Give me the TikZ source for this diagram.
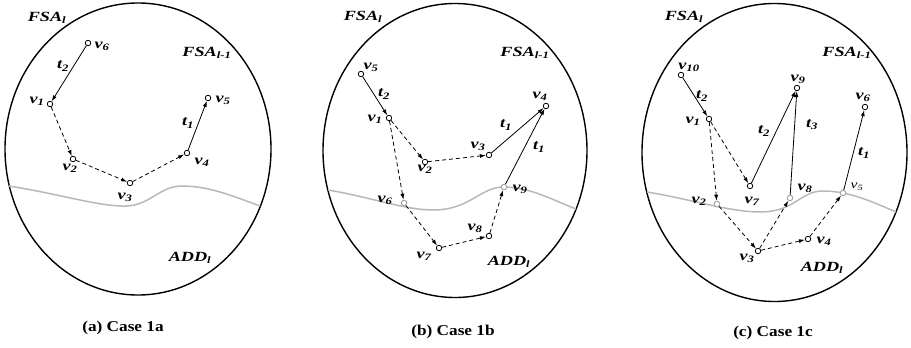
\documentclass[tikz,border=0pt]{standalone}
\usepackage{fontspec}
\setmainfont{Liberation Serif}[FakeStretch=1.15]
\newfontfamily\labfont{Liberation Serif}[FakeStretch=1.3]
\usetikzlibrary{arrows.meta}
\newcommand{\VV}[1]{v\textsubscript{#1}}
\newcommand{\TT}[1]{t\textsubscript{#1}}
\tikzset{
  vert/.style={circle, draw, fill=white, inner sep=0pt, minimum size=5.5pt, line width=0.8pt},
  gvert/.style={vert, draw=black!35, line width=1pt},
  lab/.style={font=\labfont\fontsize{14}{15}\selectfont\bfseries\itshape, inner sep=0pt},
  thinlab/.style={font=\labfont\fontsize{12}{13}\selectfont\itshape, inner sep=0pt},
  caplab/.style={font=\fontsize{15}{17}\selectfont\bfseries, inner sep=0pt},
  sarrow/.style={-{Latex[length=6pt,width=4pt]}, line width=0.8pt},
  darrow/.style={sarrow, dash pattern=on 4pt off 3pt},
  region/.style={line width=1.4pt},
  boundary/.style={line width=1.5pt, black!28}
}
\begin{document}
\begin{tikzpicture}[x=1pt, y=-1pt]
\useasboundingbox (0,0) rectangle (911,348);

% ---------------- (a) ----------------
\draw[region] (138,149) ellipse [x radius=133, y radius=146];
\draw[boundary] (9,186) .. controls (60,194) and (100,207) .. (127,206)
  .. controls (150,205) and (160,186) .. (182,186)
  .. controls (210,186) and (235,197) .. (260,206);
\node[vert] (a6) at (88,43) {};
\node[vert] (a1) at (50,104) {};
\node[vert] (a2) at (73,159) {};
\node[vert] (a3) at (130,183) {};
\node[vert] (a4) at (187,153) {};
\node[vert] (a5) at (208,98) {};
\draw[sarrow] (a6) -- (a1);
\draw[darrow] (a1) -- (a2);
\draw[darrow] (a2) -- (a3);
\draw[darrow] (a3) -- (a4);
\draw[sarrow] (a4) -- (a5);
\node[lab] (la6) at (102,46) {\VV{6}};
\node[lab] (la1) at (37,101) {\VV{1}};
\node[lab] (la2) at (70,168) {\VV{2}};
\node[lab] (la3) at (125,197) {\VV{3}};
\node[lab] (la4) at (202,162) {\VV{4}};
\node[lab] (la5) at (223,100) {\VV{5}};
\node[lab] (lat2) at (63,66) {\TT{2}};
\node[lab] (lat1) at (188,123) {\TT{1}};
\node[lab] (lafa) at (47,18) {FSA\textsubscript{l}};
\node[lab] (lafb) at (207,53) {FSA\textsubscript{l-1}};
\node[lab] (ladd) at (190,258) {ADD\textsubscript{l}};
\node[caplab] (capa) at (123,328) {(a) Case 1a};

% ---------------- (b) ----------------
\draw[region] (455,150.5) ellipse [x radius=132, y radius=147];
\draw[boundary] (328,190) .. controls (370,197) and (405,210) .. (433,210)
  .. controls (470,210) and (480,187) .. (504,187)
  .. controls (530,187) and (555,201) .. (576,209);
\node[vert] (b5) at (361,74) {};
\node[vert] (b1) at (389,118) {};
\node[vert] (b2) at (425,162) {};
\node[vert] (b3) at (489,155) {};
\node[vert] (b4) at (546,106) {};
\node[gvert] (b6) at (404,203) {};
\node[vert] (b7) at (439,248) {};
\node[vert] (b8) at (489,236) {};
\node[gvert] (b9) at (504,187) {};
\draw[sarrow] (b5) -- (b1);
\draw[darrow] (b1) -- (b2);
\draw[darrow] (b2) -- (b3);
\draw[sarrow] (b3) -- (b4);
\draw[darrow] (b1) -- (b6);
\draw[darrow] (b6) -- (b7);
\draw[darrow] (b7) -- (b8);
\draw[darrow] (b8) -- (b9);
\draw[sarrow] (b9) -- (b4);
\node[lab] (lb5) at (371,67) {\VV{5}};
\node[lab] (lb1) at (375,119) {\VV{1}};
\node[lab] (lb2) at (425,169) {\VV{2}};
\node[lab] (lb3) at (478,146) {\VV{3}};
\node[lab] (lb4) at (540,96) {\VV{4}};
\node[lab] (lb6) at (385,200) {\VV{6}};
\node[lab] (lb7) at (424,256) {\VV{7}};
\node[lab] (lb8) at (475,228) {\VV{8}};
\node[lab] (lb9) at (520,189) {\VV{9}};
\node[lab] (lbt2) at (384,94) {\TT{2}};
\node[lab] (lbt1) at (506,125) {\TT{1}};
\node[lab] (lbt1b) at (539,147) {\TT{1}};
\node[lab] (lbfa) at (363,17) {FSA\textsubscript{l}};
\node[lab] (lbfb) at (525,53) {FSA\textsubscript{l-1}};
\node[lab] (lbdd) at (509,262) {ADD\textsubscript{l}};
\node[caplab] (capb) at (453,332) {(b) Case 1b};

% ---------------- (c) ----------------
\draw[region] (774.5,152.5) ellipse [x radius=132.5, y radius=149];
\draw[boundary] (647,192) .. controls (690,199) and (730,212) .. (760,212)
  .. controls (795,212) and (800,191) .. (823,191)
  .. controls (850,191) and (875,203) .. (896,212);
\node[vert] (c10) at (681,75) {};
\node[vert] (c1) at (709,119) {};
\node[vert] (c9) at (797,88) {};
\node[vert] (c6) at (865,107) {};
\node[vert] (c7) at (750,186) {};
\node[gvert] (c2) at (717,204) {};
\node[gvert] (c8) at (790,198) {};
\node[gvert] (c5) at (843,193) {};
\node[vert] (c3) at (758,251) {};
\node[vert] (c4) at (808,239) {};
\draw[sarrow] (c10) -- (c1);
\draw[darrow] (c1) -- (c2);
\draw[darrow] (c1) -- (c7);
\draw[sarrow] (c7) -- (c9);
\draw[sarrow] (c8) -- (c9);
\draw[darrow] (c2) -- (c3);
\draw[darrow] (c3) -- (c8);
\draw[darrow] (c3) -- (c4);
\draw[darrow] (c4) -- (c5);
\draw[sarrow] (c5) -- (c6);
\node[lab] (lc10) at (689,67) {\VV{10}};
\node[lab] (lc1) at (693,121) {\VV{1}};
\node[lab] (lc9) at (798,79) {\VV{9}};
\node[lab] (lc6) at (863,97) {\VV{6}};
\node[lab] (lc7) at (752,201) {\VV{7}};
\node[lab] (lc2) at (699,201) {\VV{2}};
\node[lab] (lc8) at (805,188) {\VV{8}};
\node[thinlab] (lc5) at (857,187) {\VV{5}};
\node[lab] (lc3) at (747,258) {\VV{3}};
\node[lab] (lc4) at (824,241) {\VV{4}};
\node[lab] (lct2a) at (702,96) {\TT{2}};
\node[lab] (lct2b) at (764,131) {\TT{2}};
\node[lab] (lct3) at (812,125) {\TT{3}};
\node[lab] (lct1) at (864,153) {\TT{1}};
\node[lab] (lcfa) at (684,17) {FSA\textsubscript{l}};
\node[lab] (lcfb) at (847,53) {FSA\textsubscript{l-1}};
\node[lab] (lcdd) at (822,268) {ADD\textsubscript{l}};
\node[caplab] (capc) at (773,333) {(c) Case 1c};
\end{tikzpicture}
\end{document}
